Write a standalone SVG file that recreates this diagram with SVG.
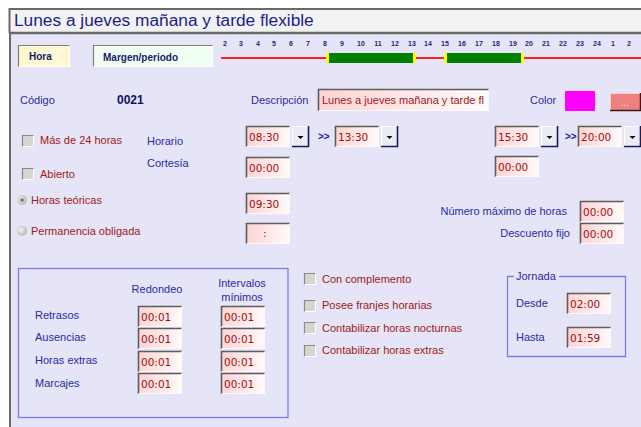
<svg xmlns="http://www.w3.org/2000/svg" xmlns:xlink="http://www.w3.org/1999/xlink" width="641" height="427" viewBox="0 0 641 427">
<style>
text{font-family:"Liberation Sans","DejaVu Sans",Arial,sans-serif;}
.lbl{fill:#2a2aa0;font-size:11px;}
.red{fill:#a01820;font-size:11px;}
.val{fill:#a01010;font-size:10.5px;font-family:"DejaVu Sans","Liberation Sans",sans-serif;}
.tl{fill:#262680;font-size:7px;font-weight:bold;text-anchor:middle;}
.box{fill:none;stroke:#7c7ce6;stroke-width:1.3;}
</style>
<defs>
<linearGradient id="pink" x1="0" y1="0" x2="1" y2="0">
<stop offset="0" stop-color="#ffd4d4"/>
<stop offset="1" stop-color="#fffafa"/>
</linearGradient>
<radialGradient id="rad" cx="0.4" cy="0.4" r="0.6">
<stop offset="0" stop-color="#f4f4f4"/>
<stop offset="1" stop-color="#b8b8b8"/>
</radialGradient>
<symbol id="inp" overflow="visible">
<rect x="0" y="0" width="44" height="21" fill="url(#pink)"/>
<path d="M0.5 21V0.5H44" fill="none" stroke="#5c5c5c" stroke-width="1.6"/>
<path d="M0.5 20.5H43.5V0.5" fill="none" stroke="#fafafa" stroke-width="1"/>
</symbol>
<symbol id="dd" overflow="visible">
<rect x="0" y="0" width="17" height="21" fill="#ececf6"/>
<path d="M0.5 21V0.5H17" fill="none" stroke="#ffffff" stroke-width="1"/>
<path d="M0 20.5H16.5V0" fill="none" stroke="#1c1c58" stroke-width="1.6"/>
<polygon points="5.5,10 11.5,10 8.5,13" fill="#000"/>
</symbol>
<symbol id="cb" overflow="visible">
<rect x="0" y="0" width="12" height="12" fill="#d6d6d0"/>
<path d="M0.5 12V0.5H12" fill="none" stroke="#8a8a8a" stroke-width="1.2"/>
<path d="M0.5 11.5H11.5V0.5" fill="none" stroke="#ffffff" stroke-width="1"/>
</symbol>
</defs>

<rect x="0" y="0" width="641" height="427" fill="#ffffff"/>
<rect x="9" y="8" width="632" height="419" fill="#e5e5f7"/>

<g id="title">
<rect x="9" y="8" width="632" height="25" fill="#f2f2f2"/>
<path d="M9 9H641M9.5 8V33" stroke="#6a6a6a" stroke-width="2" fill="none"/>
<path d="M9 33H641" stroke="#6a6a6a" stroke-width="2.5"/>
<text x="14" y="26" font-size="17.3" fill="#1c1c8c">Lunes a jueves mañana y tarde flexible</text>
</g>
<path d="M10 33V427" stroke="#6a6a6a" stroke-width="2"/>

<g id="hora">
<rect x="18" y="45" width="52" height="22" fill="#fff8d2"/>
<path d="M18.5 67V45.5H70" fill="none" stroke="#808080" stroke-width="1.2"/>
<path d="M18.5 66.5H69.5V45.5" fill="none" stroke="#ffffff"/>
<text x="29" y="60" font-size="10" font-weight="bold" fill="#1a1a6a">Hora</text>
</g>
<g id="margen">
<rect x="93" y="45" width="120" height="22" fill="#f0fff2"/>
<path d="M93.5 67V45.5H213" fill="none" stroke="#808080" stroke-width="1.2"/>
<path d="M93.5 66.5H212.5V45.5" fill="none" stroke="#ffffff"/>
<text x="103" y="61" font-size="10" font-weight="bold" fill="#1a1a6a">Margen/periodo</text>
</g>

<g id="timeline">
<text class="tl" x="225" y="46">2</text><text class="tl" x="241" y="46">3</text><text class="tl" x="258" y="46">4</text><text class="tl" x="274" y="46">5</text><text class="tl" x="291" y="46">6</text><text class="tl" x="308" y="46">7</text><text class="tl" x="325" y="46">8</text><text class="tl" x="342" y="46">9</text><text class="tl" x="361" y="46">10</text><text class="tl" x="378" y="46">11</text><text class="tl" x="395" y="46">12</text><text class="tl" x="412" y="46">13</text><text class="tl" x="428" y="46">14</text><text class="tl" x="445" y="46">15</text><text class="tl" x="462" y="46">16</text><text class="tl" x="479" y="46">17</text><text class="tl" x="496" y="46">18</text><text class="tl" x="513" y="46">19</text><text class="tl" x="529" y="46">20</text><text class="tl" x="546" y="46">21</text><text class="tl" x="563" y="46">22</text><text class="tl" x="580" y="46">23</text><text class="tl" x="597" y="46">24</text><text class="tl" x="613" y="46">1</text><text class="tl" x="629" y="46">2</text>
<path d="M221 58H641" stroke="#ff2020" stroke-width="2"/>
<rect x="328" y="53" width="86" height="10" fill="#008000"/>
<rect x="326" y="53" width="3" height="10" fill="#ffff00"/>
<rect x="413" y="53" width="3" height="10" fill="#ffff00"/>
<rect x="445" y="53" width="78" height="10" fill="#008000"/>
<rect x="444" y="53" width="3" height="10" fill="#ffff00"/>
<rect x="521" y="53" width="3" height="10" fill="#ffff00"/>
</g>

<g id="codigo">
<text class="lbl" x="20" y="104">Código</text>
<text x="117" y="104" font-size="12" font-weight="bold" fill="#101060">0021</text>
</g>
<g id="descripcion">
<text class="lbl" x="251" y="104">Descripción</text>
<rect x="318" y="89" width="171" height="22" fill="url(#pink)"/>
<path d="M318.5 111V89.5H489" fill="none" stroke="#5c5c5c" stroke-width="1.6"/>
<path d="M318.5 110.5H488.5V89.5" fill="none" stroke="#fafafa"/>
<text class="red" x="322" y="104" font-size="10.6">Lunes a jueves mañana y tarde fl</text>
</g>
<g id="color">
<text class="lbl" x="530" y="104">Color</text>
<rect x="565" y="91" width="30" height="20" fill="#ff00ff"/>
<rect x="610" y="93" width="31" height="18" fill="#f08080"/>
<path d="M610.5 111V93.5H641" fill="none" stroke="#ffd0d0"/>
<path d="M610 110.5H640.5V93" fill="none" stroke="#3a1a1a" stroke-width="1.5"/>
<text x="625" y="106" font-size="10" fill="#fbe4e4" text-anchor="middle">...</text>
</g>

<g id="mas24">
<use href="#cb" x="22" y="135"/>
<text class="red" x="40" y="144">Más de 24 horas</text>
</g>
<g id="abierto">
<use href="#cb" x="22" y="168"/>
<text class="red" x="40" y="178">Abierto</text>
</g>
<g id="horas-teoricas">
<circle cx="22" cy="200" r="5" fill="url(#rad)"/>
<circle cx="22" cy="200" r="1.8" fill="#707070"/>
<text class="red" x="31" y="204">Horas teóricas</text>
</g>
<g id="permanencia">
<circle cx="22" cy="231" r="5" fill="url(#rad)"/>
<text class="red" x="31" y="235">Permanencia obligada</text>
</g>

<g id="horario">
<text class="lbl" x="147" y="145">Horario</text>
<use href="#inp" x="246" y="126"/><text class="val" x="249" y="141">08:30</text>
<use href="#dd" x="292" y="126"/>
<text x="318" y="140" font-size="10" font-weight="bold" fill="#2020a0">&gt;&gt;</text>
<use href="#inp" x="335" y="126"/><text class="val" x="338" y="141">13:30</text>
<use href="#dd" x="381" y="126"/>
<use href="#inp" x="495" y="126"/><text class="val" x="498" y="141">15:30</text>
<use href="#dd" x="541" y="126"/>
<text x="565" y="140" font-size="10" font-weight="bold" fill="#2020a0">&gt;&gt;</text>
<use href="#inp" x="578" y="126"/><text class="val" x="581" y="141">20:00</text>
<use href="#dd" x="624" y="126"/>
</g>
<g id="cortesia">
<text class="lbl" x="147" y="167">Cortesía</text>
<use href="#inp" x="246" y="157"/><text class="val" x="249" y="172">00:00</text>
<use href="#inp" x="495" y="156"/><text class="val" x="498" y="171">00:00</text>
</g>
<g id="horas-teoricas-val">
<use href="#inp" x="246" y="193"/><text class="val" x="249" y="208">09:30</text>
</g>
<g id="permanencia-val">
<use href="#inp" x="246" y="223"/><text class="val" x="263" y="237">:</text>
</g>
<g id="numero-maximo">
<text class="lbl" x="567" y="215" text-anchor="end">Número máximo de horas</text>
<use href="#inp" x="580" y="201"/><text class="val" x="583" y="216">00:00</text>
</g>
<g id="descuento">
<text class="lbl" x="570" y="237" text-anchor="end">Descuento fijo</text>
<use href="#inp" x="580" y="223"/><text class="val" x="583" y="238">00:00</text>
</g>

<g id="redondeo-box">
<rect class="box" x="18.5" y="268.5" width="269.5" height="149"/>
<text class="lbl" x="157" y="293" text-anchor="middle" font-size="10.5">Redondeo</text>
<text class="lbl" x="242" y="287" text-anchor="middle" font-size="10.5">Intervalos</text>
<text class="lbl" x="242" y="301" text-anchor="middle" font-size="10.5">mínimos</text>
<text class="lbl" x="35" y="319" font-size="10.5">Retrasos</text>
<text class="lbl" x="35" y="341" font-size="10.5">Ausencias</text>
<text class="lbl" x="35" y="364" font-size="10.5">Horas extras</text>
<text class="lbl" x="35" y="387" font-size="10.5">Marcajes</text>
<use href="#inp" x="138" y="306"/><text class="val" x="141" y="321">00:01</text>
<use href="#inp" x="221" y="306"/><text class="val" x="224" y="321">00:01</text>
<use href="#inp" x="138" y="328"/><text class="val" x="141" y="343">00:01</text>
<use href="#inp" x="221" y="328"/><text class="val" x="224" y="343">00:01</text>
<use href="#inp" x="138" y="351"/><text class="val" x="141" y="366">00:01</text>
<use href="#inp" x="221" y="351"/><text class="val" x="224" y="366">00:01</text>
<use href="#inp" x="138" y="373"/><text class="val" x="141" y="388">00:01</text>
<use href="#inp" x="221" y="373"/><text class="val" x="224" y="388">00:01</text>
</g>

<g id="con-complemento">
<use href="#cb" x="304" y="273"/>
<text class="red" x="322" y="283" font-size="10.5">Con complemento</text>
</g>
<g id="posee-franjes">
<use href="#cb" x="304" y="300"/>
<text class="red" x="322" y="309" font-size="10.5">Posee franjes horarias</text>
</g>
<g id="nocturnas">
<use href="#cb" x="304" y="322"/>
<text class="red" x="322" y="332" font-size="10.5">Contabilizar horas nocturnas</text>
</g>
<g id="extras">
<use href="#cb" x="304" y="345"/>
<text class="red" x="322" y="354" font-size="10.5">Contabilizar  horas extras</text>
</g>

<g id="jornada">
<path class="box" d="M514 276.5H507.5V356.5H625.5V276.5H559"/>
<text class="lbl" x="516" y="280" font-size="10.5">Jornada</text>
<text class="lbl" x="516" y="307" font-size="10.5">Desde</text>
<use href="#inp" x="567" y="293"/><text class="val" x="570" y="308">02:00</text>
<text class="lbl" x="516" y="341" font-size="10.5">Hasta</text>
<use href="#inp" x="567" y="327"/><text class="val" x="570" y="342">01:59</text>
</g>
</svg>
